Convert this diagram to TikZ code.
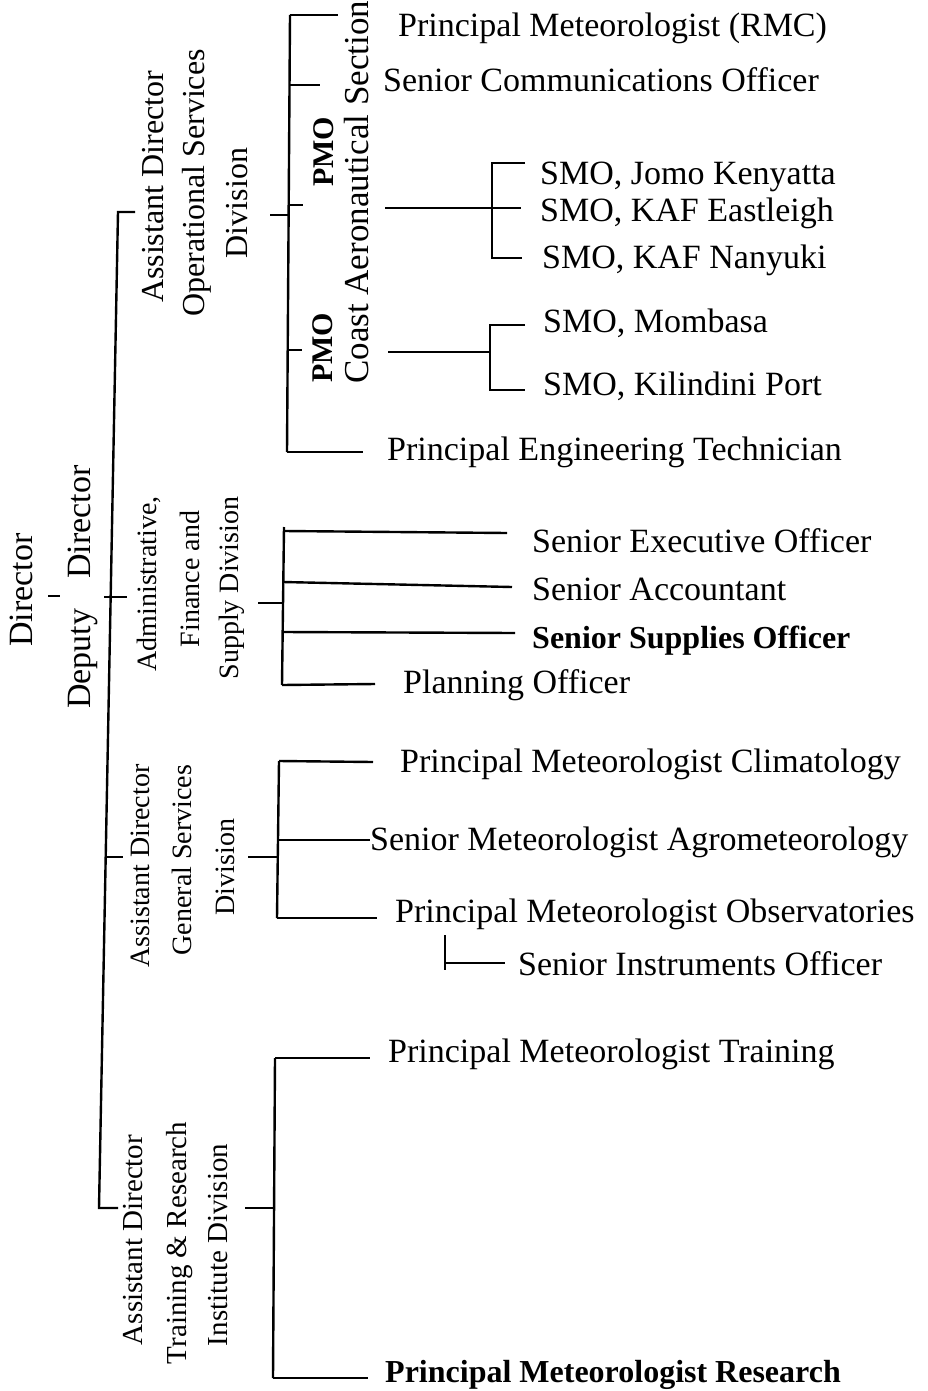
\documentclass[tikz,border=0pt]{standalone}
\usepackage{fontspec}
\setmainfont{Liberation Serif}
\begin{document}
\begin{tikzpicture}[x=1pt,y=-1pt,
  conn/.style={line width=2.4pt, line join=miter},
  lab/.style={font=\fontsize{34}{40}\selectfont, inner sep=0pt, anchor=base west},
  labb/.style={lab, font=\fontsize{32}{38}\selectfont\bfseries},
  rotA/.style={rotate=90, inner sep=0pt, anchor=base, font=\fontsize{32}{38}\selectfont},
  rotB/.style={rotate=90, inner sep=0pt, anchor=base, font=\fontsize{28}{34}\selectfont},
  rotC/.style={rotate=90, inner sep=0pt, anchor=base, font=\fontsize{29}{34}\selectfont},
  rotD/.style={rotate=90, inner sep=0pt, anchor=base, font=\fontsize{34}{40}\selectfont},
  pmo/.style={rotate=90, inner sep=0pt, anchor=base, font=\fontsize{30}{36}\selectfont\bfseries}]
\fill[white] (0,0) rectangle (928,1391);
\useasboundingbox (0,0) rectangle (928,1391);

% ---------- Director / Deputy Director ----------
\node[rotD] (dir) at (32,590) {Director};
\node[rotD] (ddir) at (90,587) {Deputy\hspace{30pt}Director};
\coordinate (dtA) at (48,596);
\coordinate (dtB) at (60,596);
\draw[line width=2pt] (dtA) -- (dtB);

% ---------- trunk ----------
\coordinate (trTe) at (135,212);
\coordinate (trT) at (118,212);
\coordinate (trB) at (99,1208);
\coordinate (trBe) at (118,1208);
\draw[conn] (trTe) -- (trT) -- (trB) -- (trBe);
\coordinate (adL) at (104,597);
\coordinate (adR) at (127,597);
\draw[conn] (adL) -- (adR);
\coordinate (gsL) at (105,857);
\coordinate (gsR) at (123,857);
\draw[conn] (gsL) -- (gsR);

% ---------- division labels ----------
\node[rotA] (op1) at (163,187) {Assistant Director};
\node[rotA] (op2) at (204,183) {Operational Services};
\node[rotA] (op3) at (247,203) {Division};

\node[rotB] (ad1) at (156,584) {Administrative,};
\node[rotB] (ad2) at (199,579) {Finance and};
\node[rotB] (ad3) at (238,588) {Supply Division};

\node[rotB] (gs1) at (149,866) {Assistant Director};
\node[rotB] (gs2) at (191,860) {General Services};
\node[rotB] (gs3) at (234,867) {Division};

\node[rotC] (tr1) at (142,1240) {Assistant Director};
\node[rotC] (tr2) at (186,1243) {Training \& Research};
\node[rotC] (tr3) at (227,1245) {Institute Division};

% ---------- Operational Services ----------
\coordinate (opIn) at (270,215);
\coordinate (opJ) at (289,215);
\draw[conn] (opIn) -- (opJ);
\coordinate (opT) at (290,15);
\coordinate (opBt) at (287,452);
\draw[conn] (opT) -- (opBt);
\coordinate (o1) at (338,15);
\coordinate (o2a) at (289,85);  \coordinate (o2) at (320,85);
\coordinate (o3a) at (289,205); \coordinate (o3) at (303,205);
\coordinate (o4a) at (288,350); \coordinate (o4) at (302,350);
\coordinate (o5) at (363,452);
\draw[conn] (opT) -- (o1);
\draw[conn] (o2a) -- (o2);
\draw[conn] (o3a) -- (o3);
\draw[conn] (o4a) -- (o4);
\draw[conn] (opBt) -- (o5);

\node[lab] (rmc) at (398,37) {Principal Meteorologist (RMC)};
\node[lab] (sco) at (383,92) {Senior Communications Officer};
\node[lab] (pet) at (387,460) {Principal Engineering Technician};

\node[pmo] (pmoA) at (333,152) {PMO};
\node[pmo] (pmoC) at (332,348) {PMO};
\node[rotate=90, inner sep=0pt, anchor=base west, font=\fontsize{35}{40}\selectfont] (cas) at (368,384) {Coast Aeronautical Section};

% Aeronautical sub-branch
\coordinate (aeL) at (385,208);
\coordinate (aeJ) at (492,208);
\coordinate (aeT) at (492,163);
\coordinate (aeB) at (492,258);
\coordinate (ae1) at (525,163);
\coordinate (ae2) at (521,208);
\coordinate (ae3) at (522,258);
\draw[conn] (aeL) -- (aeJ);
\draw[conn] (ae1) -- (aeT) -- (aeB) -- (ae3);
\draw[conn] (aeJ) -- (ae2);
\node[lab] (jomo) at (540,185) {SMO, Jomo Kenyatta};
\node[lab] (eastl) at (540,222) {SMO, KAF Eastleigh};
\node[lab] (nany) at (542,268) {SMO, KAF Nanyuki};

% Coast sub-branch
\coordinate (coL) at (388,352);
\coordinate (coJ) at (490,352);
\coordinate (coT) at (490,325);
\coordinate (coB) at (490,390);
\coordinate (co1) at (525,325);
\coordinate (co2) at (525,390);
\draw[conn] (coL) -- (coJ);
\draw[conn] (co1) -- (coT) -- (coB) -- (co2);
\node[lab] (momb) at (543,332) {SMO, Mombasa};
\node[lab] (kili) at (543,395) {SMO, Kilindini Port};

% ---------- Administrative ----------
\coordinate (adIn) at (258,603);
\coordinate (adJ) at (283,603);
\draw[conn] (adIn) -- (adJ);
\coordinate (adT) at (284,527);
\coordinate (adBt) at (282,685);
\draw[conn] (adT) -- (adBt);
\coordinate (a1a) at (284,531); \coordinate (a1) at (507,533);
\coordinate (a2a) at (283,582); \coordinate (a2) at (512,587);
\coordinate (a3a) at (283,632); \coordinate (a3) at (515,633);
\coordinate (a4) at (375,684);
\draw[conn] (a1a) -- (a1);
\draw[conn] (a2a) -- (a2);
\draw[conn] (a3a) -- (a3);
\draw[conn] (adBt) -- (a4);
\node[lab] (seo) at (532,552) {Senior Executive Officer};
\node[lab] (sacc) at (532,600) {Senior Accountant};
\node[labb] (ssup) at (532,648) {Senior Supplies Officer};
\node[lab] (plan) at (403,693) {Planning Officer};

% ---------- General Services ----------
\coordinate (gsIn) at (248,857);
\coordinate (gsJ) at (278,857);
\draw[conn] (gsIn) -- (gsJ);
\coordinate (gsT) at (279,761);
\coordinate (gsBt) at (277,918);
\draw[conn] (gsT) -- (gsBt);
\coordinate (g1) at (373,762);
\coordinate (g2a) at (278,840); \coordinate (g2) at (370,840);
\coordinate (g3) at (377,918);
\draw[conn] (gsT) -- (g1);
\draw[conn] (g2a) -- (g2);
\draw[conn] (gsBt) -- (g3);
\node[lab] (pmc) at (400,772) {Principal Meteorologist Climatology};
\node[lab] (sma) at (370,850) {Senior Meteorologist Agrometeorology};
\node[lab] (pmob) at (395,922) {Principal Meteorologist Observatories};
\coordinate (siT) at (445,935);
\coordinate (siB) at (445,970);
\coordinate (siJ) at (445,963);
\coordinate (siE) at (505,963);
\draw[line width=2pt] (siT) -- (siB);
\draw[line width=2pt] (siJ) -- (siE);
\node[lab] (sio) at (518,975) {Senior Instruments Officer};

% ---------- Training & Research ----------
\coordinate (trIn) at (245,1208);
\coordinate (trJ) at (273,1208);
\draw[conn] (trIn) -- (trJ);
\coordinate (tT) at (275,1058);
\coordinate (tBt) at (273,1378);
\draw[conn] (tT) -- (tBt);
\coordinate (t1) at (370,1058);
\coordinate (t2) at (368,1378);
\draw[conn] (tT) -- (t1);
\draw[conn] (tBt) -- (t2);
\node[lab] (pmt) at (388,1062) {Principal Meteorologist Training};
\node[labb] (pmr) at (385,1382) {Principal Meteorologist Research};
\end{tikzpicture}
\end{document}
